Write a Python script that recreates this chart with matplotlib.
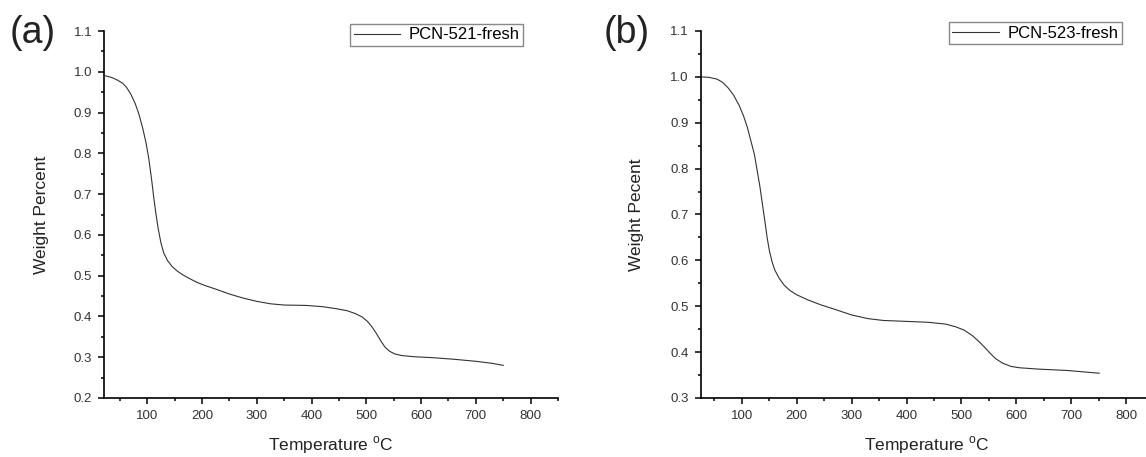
import matplotlib
matplotlib.use("Agg")
import matplotlib.pyplot as plt
from matplotlib.ticker import MultipleLocator

plt.rcParams['font.family'] = ['Liberation Sans', 'DejaVu Sans']

# (a) PCN-521-fresh, valores
temp_a = [24, 35, 45, 55, 62, 70, 78, 85, 92, 98, 103, 108, 112, 116, 120, 125, 130, 137,
          145, 155, 165, 177, 190, 205, 225, 250, 275, 300, 325, 350, 390, 420, 445, 465,
          480, 492, 502, 510, 518, 526, 534, 542, 552, 565, 590, 620, 660, 700, 730, 750]
peso_a = [0.990, 0.986, 0.980, 0.972, 0.962, 0.945, 0.922, 0.895, 0.860, 0.824, 0.785,
          0.735, 0.690, 0.650, 0.615, 0.580, 0.556, 0.537, 0.523, 0.511, 0.502, 0.493,
          0.484, 0.476, 0.467, 0.455, 0.445, 0.437, 0.431, 0.428, 0.427, 0.424, 0.419,
          0.414, 0.407, 0.399, 0.388, 0.375, 0.359, 0.341, 0.325, 0.315, 0.308, 0.304,
          0.301, 0.299, 0.295, 0.290, 0.285, 0.280]

# (b) PCN-523-fresh
temp_b = [24, 40, 55, 65, 75, 85, 95, 103, 110, 117, 123, 128, 133, 138, 142, 146, 150,
          155, 160, 168, 177, 188, 200, 220, 244, 270, 300, 330, 358, 400, 440, 472, 490,
          505, 520, 532, 542, 552, 562, 575, 590, 605, 640, 693, 751]
peso_b = [1.000, 0.999, 0.995, 0.988, 0.976, 0.960, 0.938, 0.915, 0.890, 0.858, 0.830,
          0.795, 0.760, 0.718, 0.685, 0.650, 0.622, 0.597, 0.579, 0.561, 0.546, 0.534,
          0.525, 0.514, 0.503, 0.493, 0.481, 0.473, 0.469, 0.467, 0.465, 0.461, 0.455,
          0.448, 0.436, 0.423, 0.411, 0.398, 0.386, 0.376, 0.369, 0.366, 0.363, 0.360,
          0.354]

fig = plt.figure(figsize=(11.46, 4.57), dpi=100)

W, H = 1146, 457
def eixo(esq, dir_, topo, base):
    return fig.add_axes([esq / W, 1 - base / H, (dir_ - esq) / W, (base - topo) / H])

paineis = [
    (eixo(104, 558, 31, 398), temp_a, peso_a, 'PCN-521-fresh', 'Weight Percent', (21, 850), (0.2, 1.1),
     '(a)', 33, (0.923, 1.019), 49),
    (eixo(700.7, 1153.5, 31, 398), temp_b, peso_b, 'PCN-523-fresh', 'Weight Pecent', (25, 850), (0.3, 1.1),
     '(b)', 627, (0.930, 1.024), 644),
]

for ax, x, y, nome, ylab, xlim, ylim, letra, xletra, leg_pos, xylab in paineis:
    ax.plot(x, y, color='#333333', lw=0.8, label=nome)
    ax.set_xlim(*xlim)
    ax.set_ylim(*ylim)
    ax.spines['top'].set_visible(False)
    ax.spines['right'].set_visible(False)
    for s in ('left', 'bottom'):
        ax.spines[s].set_linewidth(1.2)
    ax.xaxis.set_major_locator(MultipleLocator(100))
    ax.xaxis.set_minor_locator(MultipleLocator(50))
    ax.yaxis.set_major_locator(MultipleLocator(0.1))
    ax.yaxis.set_minor_locator(MultipleLocator(0.05))
    ax.tick_params(which='major', direction='out', length=4.5, width=1.1, labelsize=9.5,
                   labelcolor='#333333', pad=4)
    ax.tick_params(which='minor', direction='out', length=2.5, width=1.1)
    ax.set_xticks([100, 200, 300, 400, 500, 600, 700, 800])
    ax.set_yticklabels([f'{v:.1f}' for v in ax.get_yticks()])
    ax.set_xlabel('Temperature $^\\mathregular{o}$C', fontsize=12.5, color='#222222', labelpad=9)
    ax.set_ylabel(ylab, fontsize=12.5, color='#222222')
    ax.yaxis.set_label_coords((xylab - ax.get_position().x0 * W) / (ax.get_position().width * W), 0.5)
    leg = ax.legend(loc='upper right', bbox_to_anchor=leg_pos, fontsize=12, fancybox=False,
                    framealpha=1, edgecolor='#888888', handlelength=2.8, handletextpad=0.5,
                    borderpad=0.2, borderaxespad=0)
    leg.get_frame().set_linewidth(1.0)
    fig.text(xletra / W, 1 - 33 / H, letra, fontsize=27, color='#222222', ha='center', va='center')

fig.savefig('out.png', dpi=100)
